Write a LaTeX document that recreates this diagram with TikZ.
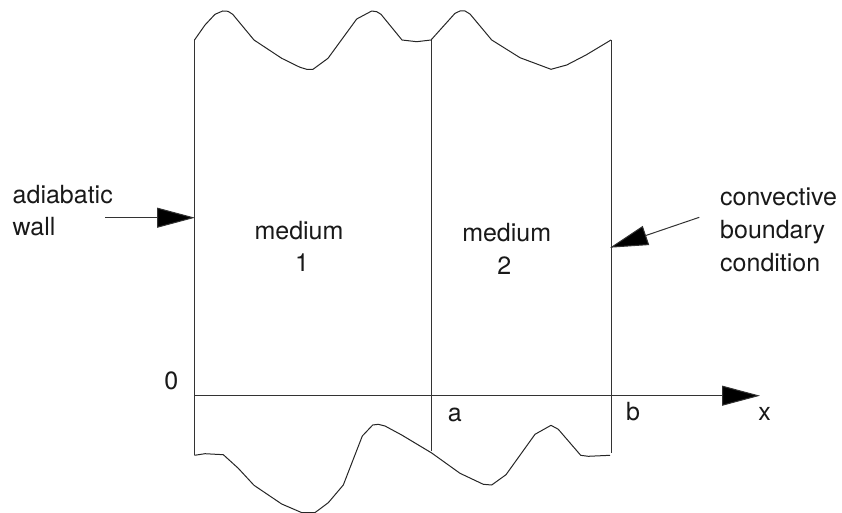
\documentclass[tikz,border=0pt]{standalone}
\usepackage{fontspec}
\setmainfont{TeX Gyre Heros}
\usetikzlibrary{arrows.meta}
\tikzset{
  curve/.style={line width=1pt,black!85,line join=round},
  wall/.style={line width=1pt,black!80},
  bigarrow/.style={line width=1pt,black!80,-{Triangle[length=38pt,width=20pt,fill=black]}},
  lbl/.style={font=\fontsize{25}{32.8}\selectfont,align=center,inner sep=0pt,text=black!90},
  lbll/.style={lbl,align=left},
  single/.style={lbl,anchor=base}
}
\begin{document}
\begin{tikzpicture}[x=1pt,y=-1pt]
\useasboundingbox (0,0) rectangle (842,513);
% named anchor points
\coordinate (TL) at (194.5,40);
\coordinate (BL) at (194.5,455.3);
\coordinate (TM) at (431,40);
\coordinate (BM) at (431,451);
\coordinate (TR) at (611,40);
\coordinate (BR) at (611,453);
\coordinate (O) at (194.5,395.7);
\coordinate (Xend) at (760,395.7);
\coordinate (Astart) at (105,217.7);
\coordinate (Aend) at (195,217.7);
\coordinate (Cstart) at (699.3,217.3);
\coordinate (Cend) at (610,247.7);
% walls
\draw[wall] (TL) -- (BL);
\draw[wall] (TM) -- (BM);
\draw[wall] (TR) -- (BR);
% top wavy edge
\draw[curve] (TL) -- (205,25) -- (215,14.3) -- (222.7,11) -- (228,11.3) -- (232.7,14.3) -- (254,40) -- (281.7,58.3) -- (300,67.3) -- (306.7,69.3) -- (313,69.3) -- (328,58.3) -- (356.7,19) -- (371.7,11) -- (376.7,11.7) -- (381,14.3) -- (402,40) -- (416.7,41.7) -- (TM) -- (455,13.3) -- (460,11) -- (465,11) -- (470,14) -- (491.7,40) -- (520,57.7) -- (551,69.3) -- (566.7,65) -- (586,55) -- (TR);
% bottom wavy edge
\draw[curve] (BL) -- (205,453.7) -- (223.3,454.7) -- (238.3,468.3) -- (254,485.3) -- (281.7,504) -- (301.7,512.6) -- (315,512.6) -- (328.3,502.7) -- (343.3,485) -- (362.3,436) -- (372.7,425) -- (378.3,424.3) -- (385,426) -- (401.7,435) -- (431.7,453) -- (460,473.3) -- (483.3,484.3) -- (491.7,485) -- (506,474.7) -- (535,434.3) -- (551,425.3) -- (558.3,429.3) -- (580.7,455.3) -- (588.3,456.3) -- (610,455.3);
% axis and arrows
\draw[bigarrow] (O) -- (Xend);
\draw[bigarrow] (Astart) -- (Aend);
\draw[bigarrow] (Cstart) -- (Cend);
% labels
\node[lbll,anchor=west] (adiabatic) at (12.5,210.6) {adiabatic\\wall};
\node[lbl] (m1) at (299,246.3) {medium\\\hspace*{6pt}1};
\node[lbl] (m2) at (506.7,249) {medium\\2\hspace*{5pt}};
\node[lbll,anchor=west] (conv) at (720,229.6) {convective\\boundary\\condition};
\node[single] (zero) at (171.3,389.3) {0};
\node[single] (a) at (454.7,421) {a};
\node[single] (b) at (633,420) {b};
\node[single] (x) at (764.7,420) {x};
\end{tikzpicture}
\end{document}
